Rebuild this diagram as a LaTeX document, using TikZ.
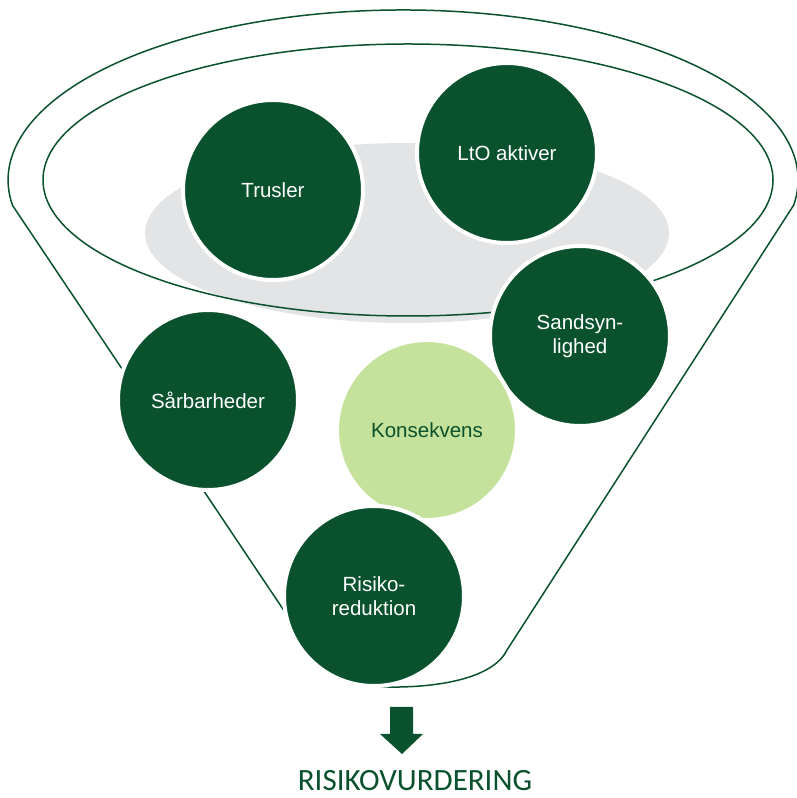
\documentclass[tikz,border=0pt]{standalone}
\usepackage{fontspec}
\usepackage{xcolor}
\setmainfont{Liberation Sans}
\newfontfamily\headfont{Carlito}

\definecolor{funnelgreen}{HTML}{0A522D}
\definecolor{konsgreen}{HTML}{C4E29B}
\definecolor{bowlgray}{HTML}{E3E4E6}

\tikzset{
  ball/.style={circle, fill=funnelgreen, draw=white, line width=4pt,
    minimum size=180pt, inner sep=0pt, outer sep=0pt, text=white,
    align=center, font=\fontsize{20.5}{23.5}\selectfont},
  lightball/.style={ball, fill=konsgreen, text=funnelgreen},
  rim/.style={draw=funnelgreen, line width=1.5pt}
}

\begin{document}
\begin{tikzpicture}[x=1pt, y=1pt]
  \useasboundingbox (0,0) rectangle (796,798);

  % gray bottom of the bowl
  \fill[bowlgray] (407,565) ellipse [x radius=262, y radius=90];

  % funnel outline
  \draw[rim] (12.3,592.9) -- (305,156)
    .. controls (330,118) and (360,110) .. (400,111)
    .. controls (450,112) and (495,123) .. (507,148)
    -- (793.7,592.9)
    arc[start angle=-8.5, end angle=188.5, x radius=395, y radius=170];

  % inner rim
  \draw[rim] (408,618) ellipse [x radius=365, y radius=136];

  % balls
  \node[ball] (trusler) at (273,608) {Trusler};
  \node[ball] (lto) at (507,645) {LtO aktiver};
  \node[ball] (sandsyn) at (580,462) {Sandsyn-\\lighed};
  \node[ball] (saarbar) at (208,398) {Sårbarheder};
  \node[lightball] (konsekvens) at (427,368) {Konsekvens};
  \node[ball] (risiko) at (374,202) {Risiko-\\reduktion};

  % block arrow
  \fill[funnelgreen] (390,91) -- (413,91) -- (413,64) -- (423,64)
    -- (402,44) -- (380,64) -- (390,64) -- cycle;

  \node[anchor=base, text=funnelgreen, font=\headfont\fontsize{31}{36}\selectfont,
    inner sep=0pt] (result) at (415,8) {RISIKOVURDERING};
\end{tikzpicture}
\end{document}
